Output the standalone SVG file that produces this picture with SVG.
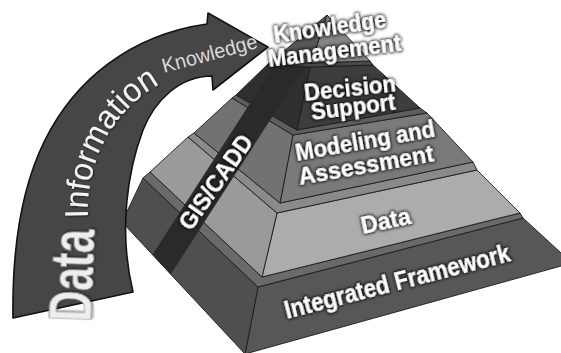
<svg xmlns="http://www.w3.org/2000/svg" width="561" height="353" viewBox="0 0 561 353">
<defs>
<style>
.edge{stroke:#1c1c1c;stroke-width:0.9;stroke-linejoin:round}
.lbl{font-family:"Liberation Sans",Arial,sans-serif;font-weight:bold;fill:#ffffff;filter:url(#glow)}
.arrowtxt{font-family:"Liberation Sans",Arial,sans-serif}
</style>
<filter id="glow" x="-30%" y="-60%" width="160%" height="220%">
<feMorphology in="SourceAlpha" operator="dilate" radius="1" result="d"/>
<feGaussianBlur in="d" stdDeviation="1.8" result="b"/>
<feFlood flood-color="#000" flood-opacity="0.85"/>
<feComposite in2="b" operator="in" result="s"/>
<feMerge><feMergeNode in="s"/><feMergeNode in="SourceGraphic"/></feMerge>
</filter>
<filter id="soft" x="-20%" y="-20%" width="140%" height="140%">
<feGaussianBlur in="SourceAlpha" stdDeviation="1" result="b"/>
<feOffset dx="1" dy="1" result="o"/>
<feFlood flood-color="#000" flood-opacity="0.6"/>
<feComposite in2="o" operator="in" result="s"/>
<feMerge><feMergeNode in="s"/><feMergeNode in="SourceGraphic"/></feMerge>
</filter>
<clipPath id="leftfaces">
<polygon points="245,354 258,287 262,277 277,213 280,203 293,135 297,130 310,67 268,64 236,95 232,98 194,133 188,137 150,172 143,178 122,222"/>
</clipPath>
</defs>
<rect width="561" height="353" fill="#ffffff"/>

<g id="layer-integrated-framework">
<polygon class="edge" fill="#575757" points="258,287 523,218 572,263 245,354"/>
<polygon class="edge" fill="#4f4f4f" points="245,354 258,287 143,178 122,222"/>
<polygon class="edge" fill="#6a6a6a" points="143,178 258,287 523,218 520,213 262,277 150,172"/>
<text class="lbl" font-size="25" textLength="232" lengthAdjust="spacingAndGlyphs" transform="translate(287,319) rotate(-14.5)">Integrated Framework</text>
</g>

<g id="layer-data">
<polygon class="edge" fill="#acacac" points="262,277 520,213 477,170 277,213"/>
<polygon class="edge" fill="#9a9a9a" points="262,277 277,213 188,137 150,172"/>
<polygon class="edge" fill="#8a8a8a" points="188,137 277,213 477,170 473,162 280,203 194,133"/>
<text class="lbl" font-size="24" textLength="50" lengthAdjust="spacingAndGlyphs" transform="translate(363,234) rotate(-12)">Data</text>
</g>

<g id="layer-modeling">
<polygon class="edge" fill="#7a7a7a" points="280,203 473,162 427,113 293,135"/>
<polygon class="edge" fill="#727272" points="280,203 293,135 232,98 194,133"/>
<polygon class="edge" fill="#5e5e5e" points="232,98 293,135 427,113 420,108 297,130 236,95"/>
<text class="lbl" font-size="24" textLength="141" lengthAdjust="spacingAndGlyphs" transform="translate(297,161) rotate(-10)">Modeling and</text>
<text class="lbl" font-size="24" textLength="137" lengthAdjust="spacingAndGlyphs" transform="translate(300,185) rotate(-10)">Assessment</text>
</g>

<g id="layer-decision">
<polygon class="edge" fill="#3d3d3d" points="297,130 420,108 373,65 310,67"/>
<polygon class="edge" fill="#2f2f2f" points="297,130 310,67 268,64 236,95"/>
<polygon class="edge" fill="#4a4a4a" points="268,64 310,67 373,65 370,61 311,63 272,61"/>
<text class="lbl" font-size="24" textLength="92" lengthAdjust="spacingAndGlyphs" transform="translate(305,101) rotate(-6)">Decision</text>
<text class="lbl" font-size="24" textLength="85" lengthAdjust="spacingAndGlyphs" transform="translate(312,120) rotate(-7)">Support</text>
</g>

<g id="gis-cadd">
<g clip-path="url(#leftfaces)">
<line x1="140" y1="298" x2="305" y2="42" stroke="#2a2a2a" stroke-width="26"/>
</g>
<text class="lbl" font-size="23" textLength="110" lengthAdjust="spacingAndGlyphs" transform="translate(191,232) rotate(-55)">GIS/CADD</text>
</g>

<g id="layer-knowledge-management">
<polygon class="edge" fill="#858585" points="311,63 370,61 327,15"/>
<polygon class="edge" fill="#575757" points="311,63 327,15 272,61"/>
<text class="lbl" font-size="23" textLength="113" lengthAdjust="spacingAndGlyphs" transform="translate(275,43) rotate(-8)">Knowledge</text>
<text class="lbl" font-size="24" textLength="134" lengthAdjust="spacingAndGlyphs" transform="translate(269,67) rotate(-7)">Management</text>
</g>

<g id="arrow">
<path d="M13,318 C12,250 20,190 45,140 C75,80 130,35 207,24 L208,13 L268,47 L213,90 L212,76 C180,76 155,100 143,130 C128,170 118,230 133,292 Z" fill="#464646" stroke="#111111" stroke-width="1.6" stroke-linejoin="round"/>
<path id="infoPath" d="M88,218 C86,170 105,115 160,84" fill="none"/>
<text class="arrowtxt" font-size="33" fill="#f4f4f4" filter="url(#soft)"><textPath href="#infoPath" textLength="160" lengthAdjust="spacingAndGlyphs">Information</textPath></text>
<text class="arrowtxt" font-size="20.5" fill="#d9d9d9" textLength="98" lengthAdjust="spacingAndGlyphs" transform="translate(164,73) rotate(-15)">Knowledge</text>
<text class="arrowtxt" font-size="62" font-weight="bold" fill="#eeeeee" stroke="#9a9a9a" stroke-width="0.8" textLength="92" lengthAdjust="spacingAndGlyphs" filter="url(#soft)" transform="translate(91,322) rotate(-88)">Data</text>
</g>
</svg>
